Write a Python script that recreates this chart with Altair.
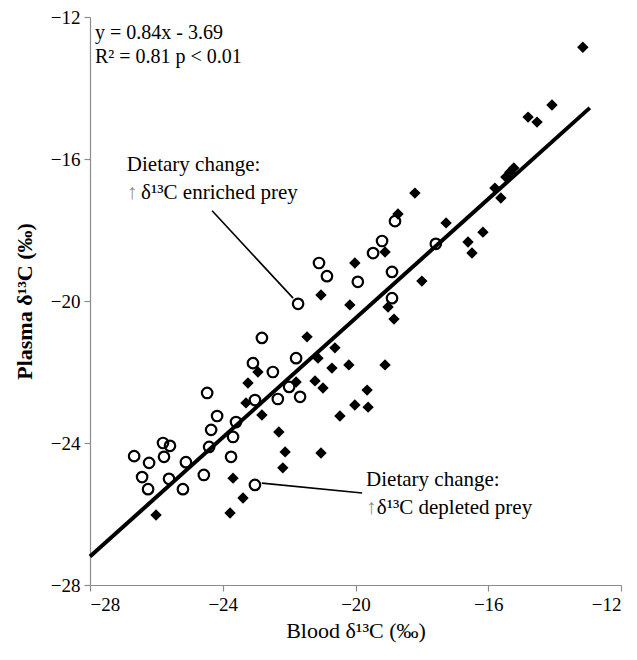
import altair as alt
import pandas as pd

# Open circles (blood d13C, plasma d13C)
circle_x = [-26.67, -26.22, -26.43, -26.25, -25.80, -25.59, -25.77, -25.62, -25.11, -25.20,
            -24.57, -24.47, -24.17, -24.35, -24.41, -23.69, -23.75, -23.60, -23.03, -23.09,
            -22.82, -22.49, -22.34, -22.00, -21.79, -21.67, -21.73, -23.03, -21.10, -20.86,
            -19.93, -19.47, -19.20, -18.90, -18.90, -18.81, -17.58]
circle_y = [-24.37, -24.56, -24.96, -25.30, -24.00, -24.08, -24.39, -25.01, -24.54, -25.30,
            -24.90, -22.59, -23.24, -23.63, -24.11, -23.83, -24.39, -23.41, -22.79, -21.75,
            -21.04, -22.00, -22.76, -22.42, -21.61, -22.70, -20.08, -25.18, -18.93, -19.30,
            -19.46, -18.65, -18.31, -19.18, -19.92, -17.75, -18.39]

# Filled diamonds
diamond_x = [-26.01, -23.78, -23.39, -23.69, -23.30, -22.82, -23.24, -22.94, -22.31, -22.12,
             -22.19, -21.04, -20.47, -20.02, -19.62, -19.65, -21.79, -21.22, -20.98, -21.46,
             -20.62, -21.13, -20.71, -20.20, -19.11, -21.04, -20.17, -20.02, -19.11, -19.02,
             -18.84, -18.00, -18.72, -18.21, -17.27, -16.61, -16.49, -16.16, -15.80, -15.62,
             -15.47, -15.35, -15.23, -14.80, -14.53, -14.08, -13.15]
diamond_y = [-26.03, -25.97, -25.55, -24.99, -22.87, -23.21, -22.31, -22.00, -23.69, -24.25,
             -24.70, -24.28, -23.24, -22.93, -22.99, -22.51, -22.28, -22.25, -22.45, -21.01,
             -21.32, -21.61, -21.89, -21.80, -21.80, -19.83, -20.11, -18.93, -18.62, -20.17,
             -20.51, -19.44, -17.55, -16.96, -17.80, -18.34, -18.65, -18.06, -16.82, -17.10,
             -16.51, -16.37, -16.25, -14.82, -14.96, -14.48, -12.85]

# Regression line end points
fit_x = [-28.0, -12.94]
fit_y = [-27.2, -14.56]

ticks = [-28, -24, -20, -16, -12]

# Annotation leader lines
lead_x = [-24.32, -22.82]
lead_y = [-17.46, -25.13]
lead_x2 = [-21.88, -19.80]
lead_y2 = [-19.92, -25.41]

SERIF = "Liberation Serif"

circles = pd.DataFrame({"x": circle_x, "y": circle_y})
diamonds = pd.DataFrame({"x": diamond_x, "y": diamond_y})
fit = pd.DataFrame({"x": fit_x, "y": fit_y})
leads = pd.DataFrame({"x": lead_x, "y": lead_y, "x2": lead_x2, "y2": lead_y2})

xs = alt.Scale(domain=[-28, -12], nice=False, zero=False)
ys = alt.Scale(domain=[-28, -12], nice=False, zero=False)

X = alt.X("x:Q", scale=xs, axis=alt.Axis(values=ticks, title="Blood δ¹³C (‰)", grid=False))
Y = alt.Y("y:Q", scale=ys, axis=alt.Axis(values=ticks, title="Plasma δ¹³C (‰)", grid=False,
                                         titleFontWeight="bold"))

pts_d = alt.Chart(diamonds).mark_point(shape="diamond", filled=True, color="black",
                                       size=130, opacity=1).encode(x=X, y=Y)
pts_c = alt.Chart(circles).mark_point(shape="circle", filled=False, color="black",
                                      strokeWidth=2.2, size=110, opacity=1).encode(x=X, y=Y)
line = alt.Chart(fit).mark_line(color="black", strokeWidth=4).encode(x=X, y=Y)
rules = alt.Chart(leads).mark_rule(color="black", strokeWidth=1.6).encode(
    x="x:Q", y="y:Q", x2="x2:Q", y2="y2:Q")

texts = pd.DataFrame({
    "x": [-27.85, -27.85, -26.89, -19.68],
    "y": [-12.45, -13.13, -16.17, -25.04],
    "t": ["y = 0.84x - 3.69", "R² = 0.81 p < 0.01", "Dietary change:", "Dietary change:"],
    "s": [20, 20, 21, 21],
})
txt = alt.Chart(texts).mark_text(align="left", baseline="middle", font=SERIF,
                                 color="black").encode(
    x="x:Q", y="y:Q", text="t:N", size=alt.Size("s:Q", scale=None, legend=None))

arrows = pd.DataFrame({"x": [-26.89, -19.68], "y": [-16.96, -25.83], "t": ["↑", "↑"]})
arr = alt.Chart(arrows).mark_text(align="left", baseline="middle", font=SERIF,
                                  fontSize=21, color="#8a8a8a").encode(x="x:Q", y="y:Q", text="t:N")

rest = pd.DataFrame({"x": [-26.46, -19.36], "y": [-16.96, -25.83],
                     "t": ["δ¹³C enriched prey", "δ¹³C depleted prey"]})
rst = alt.Chart(rest).mark_text(align="left", baseline="middle", font=SERIF,
                                fontSize=21, color="black").encode(x="x:Q", y="y:Q", text="t:N")

chart = alt.layer(pts_d, pts_c, line, rules, txt, arr, rst).properties(
    width=531, height=568,
    autosize=alt.AutoSizeParams(type="none"),
    padding={"left": 90, "top": 17, "right": 16, "bottom": 75},
    background="white",
).configure_view(stroke=None).configure_axis(
    domainColor="#8c8c8c", tickColor="#8c8c8c", domainWidth=1.2, tickWidth=1.2, tickSize=6,
    labelFont=SERIF, labelFontSize=19, labelColor="black", labelPadding=4,
    titleFont=SERIF, titleFontSize=22, titleColor="black", titleFontWeight="normal",
).configure_axisX(titlePadding=6).configure_axisY(titlePadding=14)

chart.save("out.html", embed_options={"renderer": "svg", "actions": False})
